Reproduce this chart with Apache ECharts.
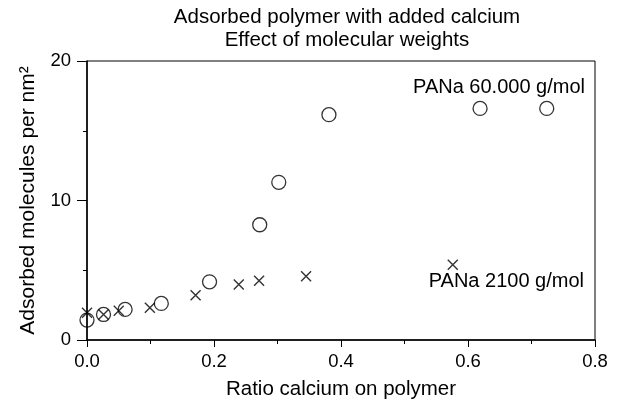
<!DOCTYPE html>
<html>
<head>
<meta charset="utf-8">
<title>Adsorbed polymer with added calcium</title>
<script src="https://cdn.jsdelivr.net/npm/echarts@6/dist/echarts.min.js"></script>
<style>
  html, body { margin: 0; padding: 0; background: #fff; }
  #chart { width: 619px; height: 405px; }
</style>
</head>
<body>
<div id="chart"></div>
<script>
// PANa 60.000 g/mol (circles)
var ratioHigh = [0, 0.026, 0.06, 0.117, 0.193, 0.272, 0.302, 0.381, 0.619, 0.724];
var adsHigh = [1.43, 1.83, 2.19, 2.62, 4.17, 8.26, 11.3, 16.15, 16.6, 16.6];
// PANa 2100 g/mol (crosses)
var ratioLow = [0, 0.026, 0.05, 0.099, 0.171, 0.239, 0.271, 0.345, 0.576];
var adsLow = [1.95, 1.83, 2.1, 2.31, 3.21, 3.98, 4.24, 4.57, 5.4];

var seriesNames = ['PANa 60.000 g/mol', 'PANa 2100 g/mol'];
var xTicks = ['0.0', '0.2', '0.4', '0.6', '0.8'];

function pairs(xs, ys) {
    var out = [];
    for (var i = 0; i < xs.length; i++) out.push([xs[i], ys[i]]);
    return out;
}

var font = 'Liberation Sans, Arial, Helvetica, sans-serif';
var chart = echarts.init(document.getElementById('chart'));

var option = {
    backgroundColor: '#fff',
    animation: false,
    title: {
        text: 'Adsorbed polymer with added calcium\nEffect of molecular weights',
        left: 347,
        top: 6,
        textAlign: 'center',
        padding: 0,
        textStyle: {
            fontFamily: font,
            fontSize: 20.5,
            fontWeight: 'normal',
            color: '#000',
            lineHeight: 23
        }
    },
    grid: {
        left: 87,
        right: 24,
        top: 61,
        bottom: 65,
        show: true,
        borderColor: '#000',
        borderWidth: 1,
        backgroundColor: 'transparent'
    },
    xAxis: {
        type: 'value',
        min: 0,
        max: 0.8,
        interval: 0.2,
        name: 'Ratio calcium on polymer',
        nameLocation: 'middle',
        nameGap: 39,
        nameTextStyle: { fontFamily: font, fontSize: 20.5, color: '#000' },
        axisLine: { onZero: false, lineStyle: { color: '#000', width: 1.5 } },
        axisTick: { show: true, length: 7, lineStyle: { color: '#000' } },
        minorTick: { show: true, splitNumber: 2, length: 4, lineStyle: { color: '#000' } },
        splitLine: { show: false },
        axisLabel: {
            margin: 12,
            fontFamily: font,
            fontSize: 18.5,
            color: '#000',
            formatter: function (v) { return xTicks[Math.round(v / 0.2)]; }
        }
    },
    yAxis: {
        type: 'value',
        min: 0,
        max: 20,
        interval: 10,
        name: 'Adsorbed molecules per nm²',
        nameLocation: 'middle',
        nameGap: 48,
        nameTextStyle: { fontFamily: font, fontSize: 21, color: '#000' },
        axisLine: { lineStyle: { color: '#000', width: 1.5 } },
        axisTick: { show: true, length: 10, lineStyle: { color: '#000' } },
        minorTick: { show: true, splitNumber: 2, length: 4, lineStyle: { color: '#000' } },
        splitLine: { show: false },
        axisLabel: { margin: 16, fontFamily: font, fontSize: 18.5, color: '#000' }
    },
    graphic: [
        {
            type: 'text',
            right: 34,
            top: 77,
            style: { text: seriesNames[0], font: '20px ' + font, fill: '#000' }
        },
        {
            type: 'text',
            right: 35,
            top: 271,
            style: { text: seriesNames[1], font: '20px ' + font, fill: '#000' }
        }
    ],
    series: [
        {
            name: seriesNames[0],
            type: 'scatter',
            symbol: 'circle',
            symbolSize: 14,
            itemStyle: { color: 'transparent', borderColor: '#000', borderWidth: 1.3 },
            data: pairs(ratioHigh, adsHigh),
            z: 3
        },
        {
            name: seriesNames[1],
            type: 'scatter',
            symbol: 'path://M0,0L10,10M0,10L10,0',
            symbolSize: 10,
            itemStyle: { color: 'transparent', borderColor: '#000', borderWidth: 1.4 },
            data: pairs(ratioLow, adsLow),
            z: 3
        }
    ]
};

chart.setOption(option);
</script>
</body>
</html>
